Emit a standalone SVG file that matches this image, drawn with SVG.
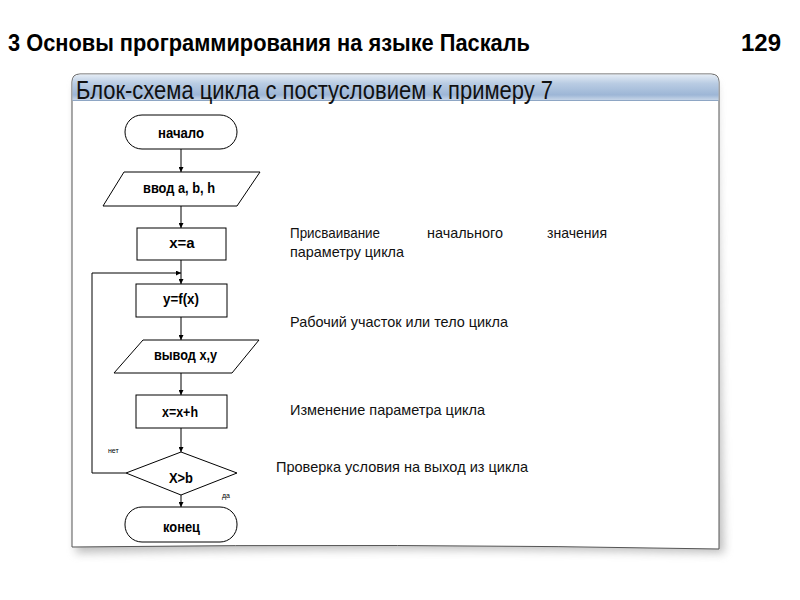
<svg xmlns="http://www.w3.org/2000/svg" width="800" height="600" viewBox="0 0 800 600">
  <defs>
    <linearGradient id="hdr" x1="0" y1="0" x2="0" y2="1">
      <stop offset="0" stop-color="#e4ecf5"/>
      <stop offset="0.35" stop-color="#b9cce3"/>
      <stop offset="0.8" stop-color="#9db6d6"/>
      <stop offset="1" stop-color="#c6d5e8"/>
    </linearGradient>
    <filter id="shadow" x="-10%" y="-10%" width="120%" height="125%">
      <feGaussianBlur stdDeviation="5"/>
    </filter>
    <marker id="arr" viewBox="0 0 8 8" refX="8" refY="4" markerWidth="5" markerHeight="5" orient="auto">
      <path d="M0,0 L8,4 L0,8 z" fill="#000"/>
    </marker>
    <style>
      .title { font-family: "Liberation Sans Narrow", "Liberation Sans", Arial, sans-serif; font-weight: bold; font-size: 24px; fill: #000; }
      .hdr { font-family: "Liberation Sans Narrow", "Liberation Sans", Arial, sans-serif; font-size: 25px; fill: #111; }
      .note { font-family: "Liberation Sans Narrow", "Liberation Sans", Arial, sans-serif; font-size: 15px; fill: #111; }
      .lbl { font-family: "Liberation Sans Narrow", "Liberation Sans", Arial, sans-serif; font-weight: bold; font-size: 15px; fill: #000; text-anchor: middle; }
      .tiny { font-family: "Liberation Sans", Arial, sans-serif; font-size: 7px; fill: #000; }
      .shape { fill: #fff; stroke: #000; stroke-width: 1; }
      .conn { fill: none; stroke: #000; stroke-width: 1; }
    </style>
  </defs>
  <rect x="0" y="0" width="800" height="600" fill="#fff"/>

  <!-- slide title -->
  <text class="title" x="8" y="51" textLength="522" lengthAdjust="spacingAndGlyphs">3 Основы программирования на языке Паскаль</text>
  <text class="title" x="741" y="51" textLength="40" lengthAdjust="spacingAndGlyphs">129</text>

  <!-- panel -->
  <path d="M76,84 L716,84 L724,553 Q400,546 76,553 Z" fill="#888" opacity="0.55" filter="url(#shadow)"/>
  <path d="M72,82 Q72,74 80,74 L711,74 Q719,74 719,82 L719,549 Q400,543 72,547 Z" fill="#fff" stroke="#555" stroke-width="1"/>
  <path d="M72.5,82 Q72.5,74.5 80,74.5 L711,74.5 Q718.5,74.5 718.5,82 L718.5,100 L72.5,100 Z" fill="url(#hdr)"/>
  <line x1="72.5" y1="100.5" x2="718.5" y2="100.5" stroke="#8ea6c4" stroke-width="1"/>
  <text class="hdr" x="76" y="99" textLength="477" lengthAdjust="spacingAndGlyphs">Блок-схема цикла с постусловием к примеру 7</text>

  <!-- connectors -->
  <g id="connectors">
    <line class="conn" x1="181" y1="149" x2="181" y2="172" marker-end="url(#arr)"/>
    <line class="conn" x1="181" y1="206" x2="181" y2="228" marker-end="url(#arr)"/>
    <line class="conn" x1="181" y1="260" x2="181" y2="284" marker-end="url(#arr)"/>
    <line class="conn" x1="181" y1="317" x2="181" y2="340" marker-end="url(#arr)"/>
    <line class="conn" x1="181" y1="373" x2="181" y2="395" marker-end="url(#arr)"/>
    <line class="conn" x1="181" y1="428" x2="181" y2="452" marker-end="url(#arr)"/>
    <line class="conn" x1="181" y1="495" x2="181" y2="507" marker-end="url(#arr)"/>
    <polyline class="conn" points="126,473 92,473 92,273 181,273" marker-end="url(#arr)"/>
    <text class="tiny" x="108" y="453">нет</text>
    <text class="tiny" x="222" y="498">да</text>
  </g>

  <!-- nodes -->
  <g id="start">
    <rect class="shape" x="125" y="115" width="112" height="34" rx="17" ry="17"/>
    <text class="lbl" x="181" y="138" textLength="46" lengthAdjust="spacingAndGlyphs">начало</text>
  </g>
  <g id="input">
    <polygon class="shape" points="124,172 260,172 237,206 103,206"/>
    <text class="lbl" x="179" y="193" textLength="72" lengthAdjust="spacingAndGlyphs">ввод a, b, h</text>
  </g>
  <g id="init">
    <rect class="shape" x="137" y="228" width="89" height="32"/>
    <text class="lbl" x="182" y="248">x=a</text>
  </g>
  <g id="body">
    <rect class="shape" x="136" y="284" width="91" height="33"/>
    <text class="lbl" x="181" y="304" textLength="36" lengthAdjust="spacingAndGlyphs">y=f(x)</text>
  </g>
  <g id="output">
    <polygon class="shape" points="143,340 259,340 232,373 114,373"/>
    <text class="lbl" x="185.5" y="360" textLength="63" lengthAdjust="spacingAndGlyphs">вывод x,y</text>
  </g>
  <g id="step">
    <rect class="shape" x="136" y="395" width="91" height="33"/>
    <text class="lbl" x="180" y="417" textLength="36" lengthAdjust="spacingAndGlyphs">x=x+h</text>
  </g>
  <g id="check">
    <polygon class="shape" points="181,452 237,473 181,495 126,473"/>
    <text class="lbl" x="181" y="483" textLength="24" lengthAdjust="spacingAndGlyphs">X&gt;b</text>
  </g>
  <g id="end">
    <rect class="shape" x="125" y="507" width="112" height="35" rx="17" ry="17"/>
    <text class="lbl" x="181.5" y="532" textLength="37" lengthAdjust="spacingAndGlyphs">конец</text>
  </g>

  <!-- annotations -->
  <g id="notes">
    <text class="note" x="290" y="238" textLength="90" lengthAdjust="spacingAndGlyphs">Присваивание</text>
    <text class="note" x="427" y="238" textLength="76" lengthAdjust="spacingAndGlyphs">начального</text>
    <text class="note" x="547" y="238" textLength="60" lengthAdjust="spacingAndGlyphs">значения</text>
    <text class="note" x="290" y="257" textLength="114" lengthAdjust="spacingAndGlyphs">параметру цикла</text>
    <text class="note" x="290" y="327" textLength="218" lengthAdjust="spacingAndGlyphs">Рабочий участок или тело цикла</text>
    <text class="note" x="290" y="415" textLength="195" lengthAdjust="spacingAndGlyphs">Изменение параметра цикла</text>
    <text class="note" x="276" y="472" textLength="252" lengthAdjust="spacingAndGlyphs">Проверка условия на выход из цикла</text>
  </g>
</svg>
